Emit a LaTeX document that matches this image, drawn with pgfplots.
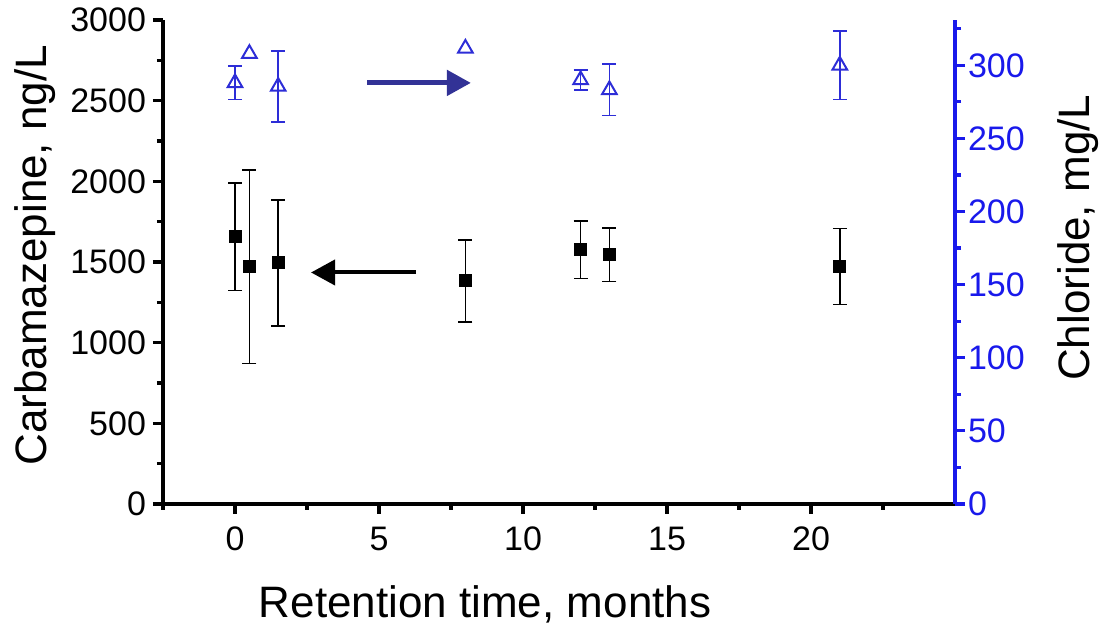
\documentclass[border=0pt]{standalone}
\usepackage{fontspec}
\setmainfont{Liberation Sans}
\usepackage{pgfplots}
\usepackage{pgfplotstable}
\pgfplotsset{compat=1.18}
\usetikzlibrary{arrows.meta}

\definecolor{clblue}{RGB}{25,25,235}
\definecolor{triblue}{RGB}{45,45,215}
\definecolor{arrowblue}{RGB}{50,50,150}

% carbamazepine, ng/L (left axis)
\pgfplotstableread{
x y err
0 1656 333
0.5 1470 600
1.5 1495 390
8 1383 255
12 1576 178
13 1545 165
21 1472 235
}\carbtable

% chloride, mg/L (right axis)
\pgfplotstableread{
x y err
0 288 11.5
1.5 285.5 24.4
12 290 6.8
13 283.2 17.5
21 300 23.5
}\cltable

\pgfplotsset{
  common/.style={
    scale only axis, width=396pt, height=242pt,
    xmin=-2.5, xmax=25,
    tick align=outside,
    major tick length=5pt, minor tick length=3pt,
    tick label style={font=\fontsize{17}{17}\selectfont},
    label style={font=\fontsize{22}{22}\selectfont},
    /pgf/number format/assume math mode=true,
    /pgf/number format/1000 sep={},
    clip=false,
  },
  ebars/.style={
    error bars/.cd, y dir=both, y explicit,
    error bar style={line width=0.8pt},
    error mark options={rotate=90, mark size=3.5pt, line width=0.8pt},
  },
}

\begin{document}
\begin{tikzpicture}
\begin{axis}[
  common,
  ymin=0, ymax=3000,
  axis x line*=bottom, axis y line*=left,
  xtick={0,5,...,20}, minor xtick={-2.5,2.5,...,25},
  ytick={0,500,...,3000}, minor ytick={250,750,...,2750},
  every tick/.style={black, line width=1.6pt},
  axis line style={line width=2.2pt, -},
  xticklabel style={yshift=-3pt},
  xlabel={Retention time, months},
  ylabel={Carbamazepine, ng/L},
  xlabel style={at={([yshift=-50pt]axis description cs:0.4066,0)}, anchor=center},
  ylabel style={at={([xshift=-64pt]axis description cs:0,0.514)}, anchor=center},
]
\addplot[only marks, mark=square*, mark size=3pt, black, ebars]
  table[x=x, y=y, y error=err] {\carbtable};
\draw[black, line width=2pt, -{Triangle[length=12pt, width=12.5pt]}]
  (axis cs:6.29,1435) -- (axis cs:2.64,1435);
\draw[arrowblue, line width=2.5pt, -{Triangle[length=12pt, width=12.5pt]}]
  (axis cs:4.6,2610) -- (axis cs:8.19,2610);
\coordinate (sw) at (rel axis cs:0,0);
\end{axis}

\begin{axis}[
  common,
  ymin=0, ymax=331,
  axis x line=none, axis y line*=right,
  ytick={0,50,...,300}, minor ytick={25,75,...,325},
  every tick/.style={clblue, line width=1.6pt},
  axis line style={clblue, line width=2.2pt, -},
  yticklabel style={clblue, xshift=-2pt},
  ylabel={Chloride, mg/L},
  ylabel style={at={([xshift=61.5pt]axis description cs:1,0.55)}, anchor=center},
]
\addplot[only marks, mark=triangle, mark size=4.2pt, triblue,
  mark options={line width=1pt}, ebars]
  table[x=x, y=y, y error=err] {\cltable};
\addplot[only marks, mark=triangle, mark size=4.2pt, triblue,
  mark options={line width=1pt}]
  coordinates {(0.5,308) (8,311.6)};
\end{axis}

\pgfresetboundingbox
\path ([shift={(-81.5pt,-63pt)}]sw) rectangle ([shift={(474.5pt,252pt)}]sw);
\end{tikzpicture}
\end{document}
